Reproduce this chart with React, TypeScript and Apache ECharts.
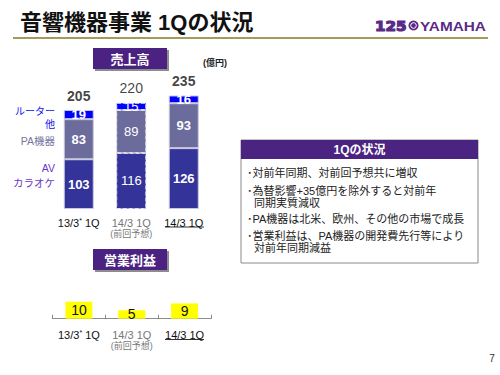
import React, { useEffect, useRef } from "react";
import * as echarts from "echarts";

const categories = ["13/3* 1Q", "14/3 1Q (前回予想)", "14/3 1Q"];
const avKaraoke = [103, 116, 126];
const paEquipment = [83, 89, 93];
const routerOther = [19, 15, 16];
const salesTotal = [205, 220, 235];
const operatingIncome = [10, 5, 9];
const forecastIndex = 1;

const bulletLines = [
  "･対前年同期、対前回予想共に増収",
  "･為替影響+35億円を除外すると対前年",
  "同期実質減収",
  "･PA機器は北米、欧州、その他の市場で成長",
  "･営業利益は、PA機器の開発費先行等により",
  "対前年同期減益",
];
const bulletY = [173, 191, 202.5, 218.5, 236, 247.5];
const bulletX = [247, 247, 254, 247, 247, 254];

const CJK = '"Liberation Sans", "Noto Sans CJK JP", sans-serif';
const PURPLE = "#4b2381";

function axisLabelFormatter(_v: string, i: number) {
  if (i === 0) return "{a|13/3}{s|*}{a| 1Q}";
  if (i === forecastIndex) return "{g|14/3 1Q}\n{gs|(前回予想)}";
  return "{a|14/3 1Q}";
}

const axisRich = {
  a: { fontSize: 11, color: "#111", fontFamily: CJK, lineHeight: 12, align: "center" },
  s: { fontSize: 7, color: "#111", fontFamily: CJK, lineHeight: 12, padding: [0, 0, 5, 0], align: "center" },
  g: { fontSize: 11, color: "#777", fontFamily: CJK, lineHeight: 12, align: "center" },
  gs: { fontSize: 9, color: "#777", fontFamily: CJK, lineHeight: 10, align: "center" },
};

function segData(values: number[]) {
  return values.map((v, i) =>
    i === forecastIndex
      ? {
          value: v,
          itemStyle: { borderType: "dashed", borderColor: "#dcdcec", borderWidth: 1 },
          label: { fontWeight: "normal" },
        }
      : { value: v }
  );
}

function segSeries(name: string, values: number[], color: string) {
  return {
    name,
    type: "bar",
    stack: "sales",
    xAxisIndex: 0,
    yAxisIndex: 0,
    barWidth: 30,
    data: segData(values),
    itemStyle: { color, borderColor: "#c8c8dc", borderWidth: 1 },
    label: {
      show: true,
      position: "inside",
      color: "#fff",
      fontWeight: "bold",
      fontSize: 13,
      fontFamily: CJK,
    },
    silent: true,
  };
}

function boxTitle(text: string, x: number, y: number, w: number, h: number) {
  return [
    {
      type: "rect",
      shape: { x, y, width: w, height: h },
      style: { fill: PURPLE, shadowColor: "rgba(0,0,0,0.45)", shadowOffsetX: 2, shadowOffsetY: 2, shadowBlur: 1 },
    },
    {
      type: "text",
      x: x + w / 2,
      y: y + h / 2 + 0.5,
      style: {
        text,
        fill: "#fff",
        fontSize: 13,
        fontWeight: "bold",
        fontFamily: CJK,
        textAlign: "center",
        textVerticalAlign: "middle",
      },
    },
  ];
}

export default function App() {
  const ref = useRef<HTMLDivElement>(null);

  useEffect(() => {
    if (!ref.current) return;
    const chart = echarts.init(ref.current, undefined, { renderer: "svg" });

    const graphic: any[] = [
      {
        type: "text",
        x: 20,
        y: 22,
        style: {
          text: "音響機器事業 1Qの状況",
          fill: "#111",
          fontSize: 22,
          fontWeight: "bold",
          fontFamily: CJK,
          textVerticalAlign: "middle",
        },
      },
      {
        type: "line",
        shape: { x1: 13, y1: 38, x2: 488, y2: 38 },
        style: { stroke: "#a49a5a", lineWidth: 2 },
      },
      {
        type: "text",
        x: 375,
        y: 26,
        scaleX: 1.08,
        style: {
          text: "125",
          fill: "#5b2a86",
          stroke: "#5b2a86",
          lineWidth: 1.2,
          fontSize: 14,
          fontWeight: "bold",
          fontFamily: '"DejaVu Sans", sans-serif',
          textVerticalAlign: "middle",
        },
      },
      {
        type: "circle",
        shape: { cx: 413.5, cy: 25.5, r: 5 },
        style: { fill: "#5b2a86" },
      },
      {
        type: "circle",
        shape: { cx: 413.5, cy: 25.5, r: 2.8 },
        style: { fill: "none", stroke: "#fff", lineWidth: 1 },
      },
      {
        type: "text",
        x: 420,
        y: 26,
        scaleX: 1.18,
        style: {
          text: "YAMAHA",
          fill: "#5b2a86",
          fontSize: 13,
          fontWeight: "bold",
          fontFamily: '"Liberation Sans", sans-serif',
          textVerticalAlign: "middle",
        },
      },
      ...boxTitle("売上高", 93, 48, 74, 21),
      ...boxTitle("営業利益", 93, 249, 74, 21),
      {
        type: "text",
        x: 203,
        y: 63,
        style: {
          text: "(億円)",
          fill: "#222",
          fontSize: 9,
          fontWeight: "bold",
          fontFamily: CJK,
          textVerticalAlign: "middle",
        },
      },
      { type: "text", x: 55, y: 111, style: { text: "ルーター", fill: "#1010ee", fontSize: 10, fontFamily: CJK, textAlign: "right", textVerticalAlign: "middle" } },
      { type: "text", x: 55, y: 124.5, style: { text: "他", fill: "#1010ee", fontSize: 10, fontFamily: CJK, textAlign: "right", textVerticalAlign: "middle" } },
      { type: "text", x: 55, y: 141, style: { text: "PA機器", fill: "#76769e", fontSize: 10.5, fontFamily: CJK, textAlign: "right", textVerticalAlign: "middle" } },
      { type: "text", x: 55, y: 168, style: { text: "AV", fill: "#6a35c9", fontSize: 10.5, fontFamily: CJK, textAlign: "right", textVerticalAlign: "middle" } },
      { type: "text", x: 55, y: 183, style: { text: "カラオケ", fill: "#6a35c9", fontSize: 10.5, fontFamily: CJK, textAlign: "right", textVerticalAlign: "middle" } },
      { type: "line", shape: { x1: 165, y1: 227, x2: 204, y2: 227 }, style: { stroke: "#333", lineWidth: 1 } },
      { type: "line", shape: { x1: 165, y1: 339.5, x2: 204, y2: 339.5 }, style: { stroke: "#333", lineWidth: 1 } },
      {
        type: "rect",
        shape: { x: 241, y: 140, width: 237, height: 123 },
        style: { fill: "#fff", stroke: "#8a8a8a", lineWidth: 1 },
      },
      {
        type: "rect",
        shape: { x: 241, y: 140, width: 237, height: 19 },
        style: { fill: PURPLE },
      },
      {
        type: "text",
        x: 359.5,
        y: 150,
        style: {
          text: "1Qの状況",
          fill: "#fff",
          fontSize: 12,
          fontWeight: "bold",
          fontFamily: CJK,
          textAlign: "center",
          textVerticalAlign: "middle",
        },
      },
      ...bulletLines.map((t, i) => ({
        type: "text",
        x: bulletX[i],
        y: bulletY[i],
        style: {
          text: t,
          fill: "#222",
          fontSize: 11,
          fontFamily: CJK,
          textVerticalAlign: "middle",
        },
      })),
      {
        type: "text",
        x: 492,
        y: 358,
        style: { text: "7", fill: "#333", fontSize: 10, fontFamily: CJK, textAlign: "center", textVerticalAlign: "middle" },
      },
    ];

    chart.setOption({
      animation: false,
      backgroundColor: "#fff",
      grid: [
        { left: 52.5, width: 157.5, top: 88.25, height: 120.75 },
        { left: 52.5, width: 158.5, top: 293.2, height: 25.5 },
      ],
      xAxis: [
        {
          type: "category",
          gridIndex: 0,
          data: categories,
          axisLine: { show: false },
          axisTick: { show: false },
          axisLabel: { margin: 8, formatter: axisLabelFormatter, rich: axisRich, interval: 0 },
        },
        {
          type: "category",
          gridIndex: 1,
          data: categories,
          axisLine: { show: true, lineStyle: { color: "#8c8c8c", width: 1 } },
          axisTick: { show: true, inside: true, length: 4, lineStyle: { color: "#8c8c8c" } },
          axisLabel: { margin: 10, formatter: axisLabelFormatter, rich: axisRich, interval: 0 },
        },
      ],
      yAxis: [
        { type: "value", gridIndex: 0, min: 0, max: 250, show: false, splitLine: { show: false } },
        { type: "value", gridIndex: 1, min: 0, max: 15, show: false, splitLine: { show: false } },
      ],
      series: [
        segSeries("AV カラオケ", avKaraoke, "#333399"),
        segSeries("PA機器", paEquipment, "#6b6b9c"),
        segSeries("ルーター 他", routerOther, "#0000ff"),
        {
          name: "合計",
          type: "scatter",
          xAxisIndex: 0,
          yAxisIndex: 0,
          symbolSize: 1,
          itemStyle: { color: "rgba(0,0,0,0)" },
          data: salesTotal.map((v, i) =>
            i === forecastIndex ? { value: v, label: { fontWeight: "normal" } } : { value: v }
          ),
          label: {
            show: true,
            position: "top",
            distance: 7,
            color: "#111",
            fontSize: 14,
            fontWeight: "bold",
            fontFamily: CJK,
          },
          silent: true,
        },
        {
          name: "営業利益",
          type: "bar",
          xAxisIndex: 1,
          yAxisIndex: 1,
          barWidth: 27,
          data: operatingIncome,
          itemStyle: { color: "#ffff00" },
          label: {
            show: true,
            position: "inside",
            color: "#111",
            fontSize: 14,
            fontFamily: CJK,
          },
          silent: true,
        },
      ],
      graphic,
    });

    return () => chart.dispose();
  }, []);

  return (
    <div
      ref={ref}
      style={{ position: "absolute", left: 0, top: 0, width: 500, height: 375 }}
    />
  );
}
